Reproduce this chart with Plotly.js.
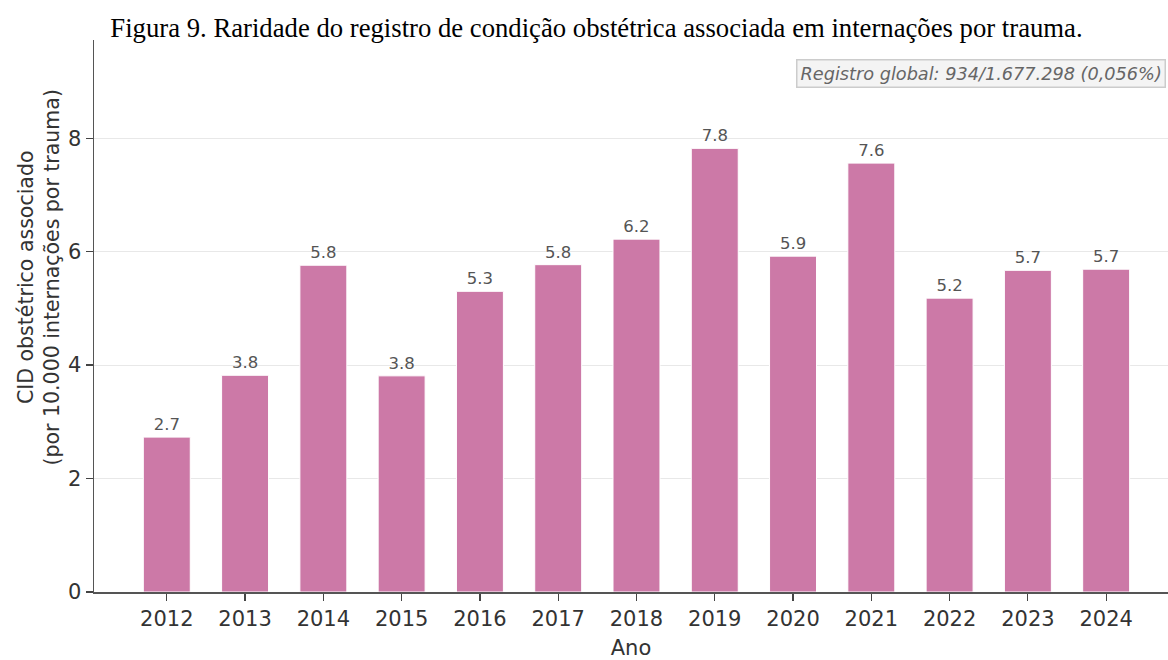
<!DOCTYPE html>
<html>
<head>
<meta charset="utf-8">
<script src="https://cdn.plot.ly/plotly-3.0.1.min.js"></script>
<style>html,body{margin:0;padding:0;background:#fff;}#chart{width:1168px;height:660px;}</style>
</head>
<body>
<div id="chart"></div>
<script>
const years = [2012, 2013, 2014, 2015, 2016, 2017, 2018, 2019, 2020, 2021, 2022, 2023, 2024];
const rates = [2.73, 3.82, 5.76, 3.81, 5.30, 5.77, 6.22, 7.82, 5.92, 7.56, 5.18, 5.67, 5.69];
const rateLabels = rates.map(v => v.toFixed(1));
const yTicks = [0, 2, 4, 6, 8];
const titleText = 'Figura 9. Raridade do registro de condição obstétrica associada em internações por trauma.';
const noteText = 'Registro global: 934/1.677.298 (0,056%)';
const yTitle = 'CID obstétrico associado<br>(por 10.000 internações por trauma)';
const xTitle = 'Ano';

const F = 'DejaVu Sans, sans-serif';
const trace = {
  type: 'bar',
  x: years,
  y: rates,
  width: 0.6,
  marker: {color: '#cc79a7', line: {color: '#ffffff', width: 1}},
  text: rateLabels,
  textposition: 'outside',
  cliponaxis: false,
  textfont: {family: F, size: 16.5, color: '#555555'},
  hoverinfo: 'x+y'
};

const layout = {
  width: 1168, height: 660,
  margin: {l: 94, r: 0, t: 40, b: 68, pad: 0},
  paper_bgcolor: '#ffffff', plot_bgcolor: '#ffffff',
  showlegend: false,
  title: {
    text: titleText,
    font: {family: 'Liberation Serif, Times New Roman, serif', size: 26.7, color: '#000000'},
    x: 596.5 / 1168, xanchor: 'center', xref: 'container',
    y: 1 - 28/660, yanchor: 'middle', yref: 'container'
  },
  xaxis: {
    range: [2011.07, 2024.79],
    tickmode: 'array', tickvals: years, ticktext: years.map(String),
    tickfont: {family: F, size: 21, color: '#333333'},
    ticks: 'outside', ticklen: 7, tickwidth: 1.2, tickcolor: '#444444',
    showline: true, linecolor: '#555555', linewidth: 1.5,
    showgrid: false, zeroline: false,
    title: {text: xTitle, font: {family: F, size: 21, color: '#333333'}, standoff: 13}
  },
  yaxis: {
    range: [0, 9.73],
    tickmode: 'array', tickvals: yTicks,
    tickfont: {family: F, size: 21, color: '#333333'},
    ticks: 'outside', ticklen: 7, tickwidth: 1.2, tickcolor: '#444444',
    showline: true, linecolor: '#555555', linewidth: 1.5,
    showgrid: true, gridcolor: '#e8e8e8', gridwidth: 1,
    zeroline: false
  },
  annotations: [
    {
      text: yTitle, xref: 'paper', yref: 'paper',
      x: (11 - 94) / 1074, y: (592 - 278) / 552, xanchor: 'left', yanchor: 'middle',
      textangle: -90, showarrow: false,
      font: {family: F, size: 20.5, color: '#333333'}
    },
    {
      text: '<i>' + noteText + '</i>', xref: 'paper', yref: 'paper',
      x: 0.9985, y: (592 - 73) / 552, xanchor: 'right', yanchor: 'middle',
      showarrow: false,
      font: {family: F, size: 17.7, color: '#666666'},
      bgcolor: '#f4f4f4', bordercolor: '#cccccc', borderwidth: 1.5, borderpad: 3
    }
  ]
};

Plotly.newPlot('chart', [trace], layout, {displayModeBar: false, staticPlot: true});
</script>
</body>
</html>
